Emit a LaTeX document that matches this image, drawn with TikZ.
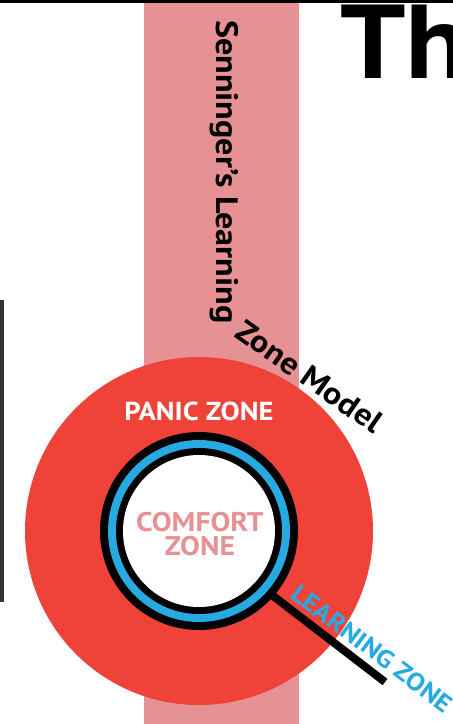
\documentclass[tikz,border=0pt]{standalone}
\usepackage{fontspec}
\setmainfont{PT Sans}[FakeStretch=1.1]
\usepackage{tikz}
\usepackage{xcolor}
\definecolor{panicred}{RGB}{239,66,56}
\definecolor{bandpink}{RGB}{230,145,148}
\definecolor{learnblue}{RGB}{39,170,225}

\begin{document}
\begin{tikzpicture}[x=1pt,y=1pt,
  label/.style={inner sep=0pt,font=\bfseries\fontsize{#1}{#1}\selectfont}]
\useasboundingbox (0,0) rectangle (453,-724);
\clip (0,0) rectangle (453,-724);

\fill[bandpink] (144,0) rectangle (299,-724);
\fill[black] (0,0) rectangle (453,-3);
\fill[black!80] (0,-300) rectangle (4,-602);

\coordinate (ctr) at (199,-531);
\fill[panicred] (ctr) circle (174);
\fill[black] (ctr) circle (99);
\fill[learnblue] (ctr) circle (91);
\fill[black] (ctr) circle (83);
\fill[white] (ctr) circle (76);

\coordinate (handletop) at (268,-592);
\coordinate (handleend) at (385,-682);
\draw[line width=8pt] (handletop) -- (handleend);

\node[label=105,anchor=base west] (title) at (340,-78) {Th};
\node[label=31,anchor=base west,rotate=-90] (senninger) at (216,-20) {Senninger’s Learning};
\node[label=31,anchor=base west,rotate=-35] (model) at (233,-336) {Zone Model};

\node[label=26,white] (panic) at (199,-411) {PANIC ZONE};
\node[label=27,bandpink,align=center] (comfort) at (200,-534) {COMFORT\\[-3pt]ZONE};
\node[label=25,learnblue,anchor=base west,rotate=-37] (learning) at (289,-597) {LEARNING ZONE};
\end{tikzpicture}
\end{document}
